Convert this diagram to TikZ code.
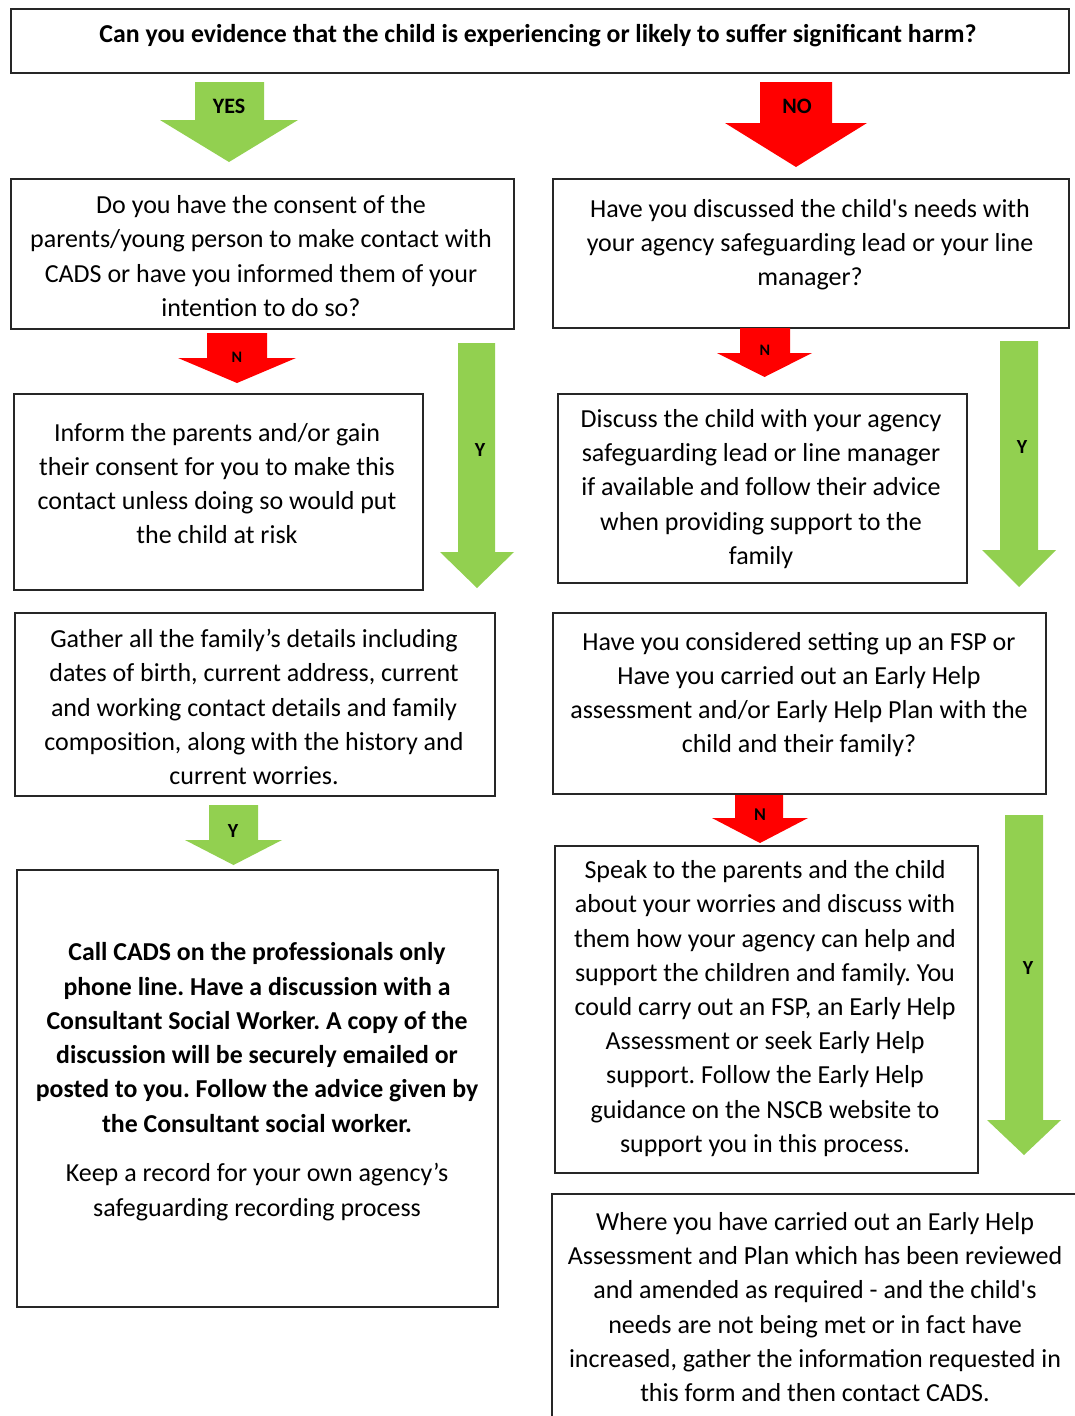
\documentclass[tikz,border=0pt]{standalone}
\usepackage{fontspec}
\setmainfont{Carlito}
\frenchspacing
\definecolor{ygreen}{RGB}{146,208,80}
\definecolor{nred}{RGB}{255,0,0}
\tikzset{
  box/.style={draw=black!85, line width=2.2pt, rectangle, inner sep=0pt, anchor=north west},
  txt/.style={align=center, inner sep=0pt, text=black, font=\frenchspacing\fontsize{26}{34.2}\selectfont},
  btxt/.style={align=center, inner sep=0pt, text=black, font=\frenchspacing\bfseries\fontsize{25.8}{34.3}\selectfont},
  lbl/.style={inner sep=0pt, text=black, font=\bfseries\fontsize{#1}{#1}\selectfont},
  lbl/.default=20
}
% block arrow: xl, xr, ytop, hl, hr, ybase, tipy, colour
\newcommand\blockarr[8]{%
  \fill[#8] (#1,#3) -- (#2,#3) -- (#2,#6) -- (#5,#6) -- ({(#4+#5)/2},#7) -- (#4,#6) -- (#1,#6) -- cycle;}
\begin{document}
\begin{tikzpicture}[x=1pt,y=-1pt]
\useasboundingbox[fill=white] (0,0) rectangle (1075,1416);

% boxes
\node[box, minimum width=1058pt, minimum height=64pt] (title) at (10,8) {};
\node[box, minimum width=503pt, minimum height=150pt] (consent) at (10,178) {};
\node[box, minimum width=516pt, minimum height=149pt] (discussed) at (552,178) {};
\node[box, minimum width=409pt, minimum height=196pt] (inform) at (13,393) {};
\node[box, minimum width=409pt, minimum height=189pt] (discuss) at (557,393) {};
\node[box, minimum width=480pt, minimum height=183pt] (gather) at (14,612) {};
\node[box, minimum width=493pt, minimum height=181pt] (considered) at (552,612) {};
\node[box, minimum width=481pt, minimum height=437pt] (call) at (16,869) {};
\node[box, minimum width=423pt, minimum height=327pt] (speak) at (554,845) {};
\node[box, minimum width=540pt, minimum height=240pt] (where) at (551,1193) {};

% texts
\node[btxt, font=\frenchspacing\bfseries\fontsize{25.8}{30}\selectfont] (titletxt) at (538,36)
  {Can you evidence that the child is experiencing or likely to suffer significant harm?};
\node[txt] (consenttxt) at (261,256) {Do you have the consent of the\\parents/young person to make contact with\\CADS or have you informed them of your\\intention to do so?};
\node[txt] (discussedtxt) at (810,244.5) {Have you discussed the child\textquotesingle s needs with\\your agency safeguarding lead or your line\\manager?};
\node[txt] (informtxt) at (217,483.5) {Inform the parents and/or gain\\their consent for you to make this\\contact unless doing so would put\\the child at risk};
\node[txt] (discusstxt) at (761,489) {Discuss the child with your agency\\safeguarding lead or line manager\\if available and follow their advice\\when providing support to the\\family};
\node[txt] (gathertxt) at (254,707) {Gather all the family’s details including\\dates of birth, current address, current\\and working contact details and family\\composition, along with the history and\\current worries.};
\node[txt] (consideredtxt) at (799,694.5) {Have you considered setting up an FSP or\\Have you carried out an Early Help\\assessment and/or Early Help Plan with the\\child and their family?};
\node[btxt] (calltxt) at (257,1037.5) {Call CADS on the professionals only\\phone line. Have a discussion with a\\Consultant Social Worker. A copy of the\\discussion will be securely emailed or\\posted to you. Follow the advice given by\\the Consultant social worker.};
\node[txt] (recordtxt) at (257,1192) {Keep a record for your own agency’s\\safeguarding recording process};
\node[txt] (speaktxt) at (765,1008.5) {Speak to the parents and the child\\about your worries and discuss with\\them how your agency can help and\\support the children and family. You\\could carry out an FSP, an Early Help\\Assessment or seek Early Help\\support. Follow the Early Help\\guidance on the NSCB website to\\support you in this process.};
\node[txt] (wheretxt) at (815,1307) {Where you have carried out an Early Help\\Assessment and Plan which has been reviewed\\and amended as required - and the child\textquotesingle s\\needs are not being met or in fact have\\increased, gather the information requested in\\this form and then contact CADS.};

% block arrows
\blockarr{195}{264}{82}{160}{298}{120}{162}{ygreen}
\blockarr{760}{832}{82}{725}{867}{123}{167}{nred}
\blockarr{207}{267}{333}{178}{296}{358}{383}{nred}
\blockarr{458}{495}{343}{440}{514}{552}{588}{ygreen}
\blockarr{740}{790}{328}{717}{812}{353}{377}{nred}
\blockarr{1000}{1038}{341}{982}{1056}{550}{587}{ygreen}
\blockarr{209}{258}{805}{185}{282}{840}{865}{ygreen}
\blockarr{735}{783}{795}{712}{808}{818}{843}{nred}
\blockarr{1005}{1043}{815}{987}{1061}{1120}{1155}{ygreen}

% arrow labels
\node[lbl=22] (yes) at (229,106) {YES};
\node[lbl=22] (no) at (797,106) {NO};
\node[lbl=16] (n1) at (237,357) {N};
\node[lbl] (y1) at (480,450) {Y};
\node[lbl=16] (n2) at (765,350) {N};
\node[lbl] (y2) at (1022,447) {Y};
\node[lbl] (y3) at (233,831) {Y};
\node[lbl=18] (n3) at (760,815) {N};
\node[lbl] (y4) at (1028,968) {Y};
\end{tikzpicture}
\end{document}
